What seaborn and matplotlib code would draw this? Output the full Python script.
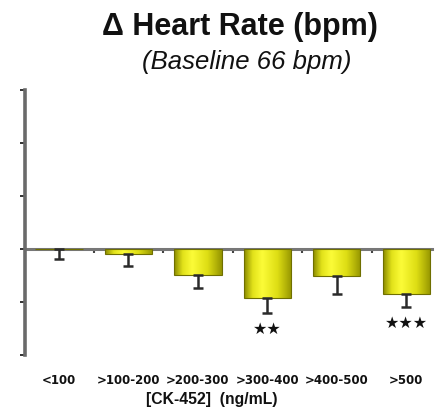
import numpy as np
import pandas as pd
import matplotlib
matplotlib.use("Agg")
import matplotlib.pyplot as plt
from matplotlib.colors import LinearSegmentedColormap
import seaborn as sns

# CK-452 concentration bins and mean change in heart rate (bpm), with SEM
bins = ["<100", ">100-200", ">200-300", ">300-400", ">400-500", ">500"]
delta_hr = [0.0, -0.45, -2.45, -4.6, -2.55, -4.25]
sem = [0.95, 1.15, 1.25, 1.45, 1.7, 1.25]
significance = ["", "", "", "★★", "", "★★★"]
y_ticks = [-10, -5, 0, 5, 10, 15]

sns.set_theme(style="white")
plt.rcParams["font.family"] = ["Liberation Sans", "DejaVu Sans"]

df = pd.DataFrame({"bin": bins, "delta": delta_hr})

fig = plt.figure(figsize=(4.36, 4.19), dpi=100)
ax = fig.add_axes([25 / 436, 1 - 355 / 419, 407 / 436, 265 / 419])

sns.barplot(data=df, x="bin", y="delta", order=bins, errorbar=None,
            width=0.68, color="#e6e620", edgecolor="#6f6f00",
            linewidth=0.8, ax=ax)

ax.set_xlim(-0.49, 5.37)
ax.set_ylim(y_ticks[0], y_ticks[-1])

# cylinder-like shading across each bar
shade = LinearSegmentedColormap.from_list(
    "shade",
    [(0.0, "#8a8a00"), (0.18, "#e2e21a"), (0.38, "#fcfc38"),
     (0.7, "#dede14"), (1.0, "#959500")])
grad = np.linspace(0, 1, 128).reshape(1, -1)
for patch in ax.patches:
    x0, y0 = patch.get_x(), patch.get_y()
    w, h = patch.get_width(), patch.get_height()
    if h == 0:
        continue
    im = ax.imshow(grad, cmap=shade, aspect="auto", interpolation="bicubic",
                   extent=(x0, x0 + w, y0 + h, y0), zorder=patch.get_zorder())
    im.set_clip_path(patch)
    patch.set_facecolor("none")
    patch.set_zorder(patch.get_zorder() + 0.1)
ax.set_xlim(-0.49, 5.37)
ax.set_ylim(y_ticks[0], y_ticks[-1])

# one-sided (downward) error bars
xpos = np.arange(len(bins))
ax.errorbar(xpos, delta_hr, yerr=[sem, np.zeros(len(sem))], fmt="none",
            ecolor="#2a2a2a", elinewidth=1.8, capsize=3.5, capthick=1.8,
            zorder=5)

for x, v, e, s in zip(xpos, delta_hr, sem, significance):
    if s:
        ax.annotate(s, (x, v - e), xytext=(0, -6), textcoords="offset points",
                    ha="center", va="top", fontsize=11.5, color="#111111",
                    family=["DejaVu Sans"])

# zero line with category-boundary ticks
zero_frac = (0 - y_ticks[0]) / (y_ticks[-1] - y_ticks[0])
zero_axis = ax.secondary_xaxis(zero_frac)
zero_axis.set_xticks(np.arange(len(bins) - 1) + 0.5)
zero_axis.set_xticklabels([])
zero_axis.tick_params(axis="x", direction="out", length=3, width=1.5,
                      color="#444444")
zero_axis.spines["bottom"].set_color("#777777")
zero_axis.spines["bottom"].set_linewidth(2.2)

for side in ["top", "right", "bottom"]:
    ax.spines[side].set_visible(False)
ax.spines["left"].set_color("#6a6a6a")
ax.spines["left"].set_linewidth(2.6)

ax.set_yticks(y_ticks)
ax.set_yticklabels([])
ax.tick_params(axis="y", left=True, direction="out", length=3.5, width=1.4,
               color="#333333")
ax.tick_params(axis="x", length=0, pad=14)
for lbl in ax.get_xticklabels():
    lbl.set_fontsize(8.5)
    lbl.set_fontweight("bold")
    lbl.set_family(["DejaVu Sans"])
    lbl.set_color("#111111")

ax.set_ylabel("")
ax.set_xlabel("[CK-452]  (ng/mL)", fontsize=11.3, fontweight="bold",
              color="#111111", labelpad=3)
ax.xaxis.label.set_x(0.46)

fig.text(0.551, 0.935, "Δ Heart Rate (bpm)", ha="center", va="center",
         fontsize=22, fontweight="bold", color="#111111")
fig.text(0.565, 0.852, "(Baseline 66 bpm)", ha="center", va="center",
         fontsize=18.5, fontstyle="italic", color="#111111")

fig.savefig("out.png", dpi=100, facecolor="white")
